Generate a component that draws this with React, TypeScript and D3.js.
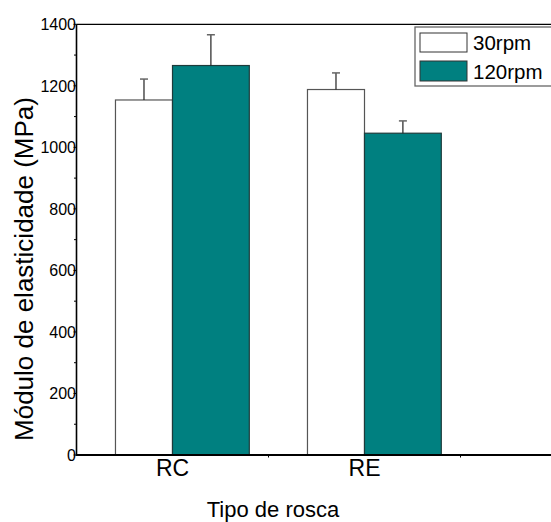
import React from "react";
import * as d3 from "d3";

const categories = ["RC", "RE"];
const seriesNames = ["30rpm", "120rpm"];
const values30 = [1154, 1188];
const values120 = [1266, 1046];
const err30 = [68, 54];
const err120 = [100, 40];
const yTicks = [0, 200, 400, 600, 800, 1000, 1200, 1400];
const yMinorTicks = [100, 300, 500, 700, 900, 1100, 1300];
const xMinorTicks = [1.5, 2.5];

const W = 551;
const H = 522;
const TEAL = "#008080";

export default function App() {
  const x = d3.scaleLinear().domain([0.5, 3.5]).range([76.5, 652.5]);
  const y = d3.scaleLinear().domain([0, 1400]).range([455, 24.3]);
  const step = x(2) - x(1);
  const wWhite = step * 0.297;
  const wTeal = step * 0.4;
  const font = "'Liberation Sans', Arial, sans-serif";

  return (
    <svg width={W} height={H} style={{ position: "absolute", left: 0, top: 0, background: "#fff" }} fontFamily={font}>
      <rect x={0} y={0} width={W} height={H} fill="#fff" />
      {/* bars */}
      {categories.map((c, i) => {
        const cx = x(i + 1);
        return (
          <g key={c}>
            <rect x={cx - wWhite} y={y(values30[i])} width={wWhite} height={y(0) - y(values30[i])} fill="#fff" stroke="#555" strokeWidth={1.2} />
            <line x1={cx - wWhite / 2} x2={cx - wWhite / 2} y1={y(values30[i])} y2={y(values30[i] + err30[i])} stroke="#222" strokeWidth={1.2} />
            <line x1={cx - wWhite / 2 - 4} x2={cx - wWhite / 2 + 4} y1={y(values30[i] + err30[i])} y2={y(values30[i] + err30[i])} stroke="#666" strokeWidth={1.5} />
            <rect x={cx} y={y(values120[i])} width={wTeal} height={y(0) - y(values120[i])} fill={TEAL} stroke="#1e3b3b" strokeWidth={1.2} />
            <line x1={cx + wTeal / 2} x2={cx + wTeal / 2} y1={y(values120[i])} y2={y(values120[i] + err120[i])} stroke="#222" strokeWidth={1.2} />
            <line x1={cx + wTeal / 2 - 4} x2={cx + wTeal / 2 + 4} y1={y(values120[i] + err120[i])} y2={y(values120[i] + err120[i])} stroke="#666" strokeWidth={1.5} />
          </g>
        );
      })}
      {/* frame */}
      <line x1={x(0.5)} x2={W} y1={y(1400)} y2={y(1400)} stroke="#000" strokeWidth={1.3} />
      <line x1={x(0.5)} x2={W} y1={y(0)} y2={y(0)} stroke="#000" strokeWidth={2} />
      <line x1={x(0.5)} x2={x(0.5)} y1={y(0) + 1} y2={y(1400)} stroke="#000" strokeWidth={1.6} />
      {/* y ticks */}
      {yTicks.map((t) => (
        <g key={t}>
          <line x1={x(0.5) - 3} x2={x(0.5)} y1={y(t)} y2={y(t)} stroke="#000" strokeWidth={1} />
          <text x={x(0.5) - 0.5} y={y(t)} dy="0.36em" textAnchor="end" fontSize={16} fill="#000">{t}</text>
        </g>
      ))}
      {yMinorTicks.map((t) => (
        <line key={t} x1={x(0.5) - 2.5} x2={x(0.5)} y1={y(t)} y2={y(t)} stroke="#000" strokeWidth={1} />
      ))}
      {xMinorTicks.map((t) => (
        <line key={t} x1={x(t)} x2={x(t)} y1={y(0)} y2={y(0) + 2.5} stroke="#000" strokeWidth={1} />
      ))}
      {/* x labels */}
      {categories.map((c, i) => (
        <text key={c} x={x(i + 1)} y={476} textAnchor="middle" fontSize={23} fill="#000">{c}</text>
      ))}
      <text x={273} y={517} textAnchor="middle" fontSize={22} fill="#000">Tipo de rosca</text>
      <text transform={`translate(33,269) rotate(-90)`} textAnchor="middle" fontSize={26} fill="#000">Módulo de elasticidade (MPa)</text>
      {/* legend */}
      <rect x={415} y={27} width={150} height={59} fill="#fff" stroke="#666" strokeWidth={1.3} />
      <rect x={420} y={33} width={47} height={19} fill="#fff" stroke="#333" strokeWidth={1} />
      <rect x={420} y={61} width={47} height={20} fill={TEAL} stroke="#333" strokeWidth={1} />
      <text x={473} y={50} fontSize={20.5} fill="#000">{seriesNames[0]}</text>
      <text x={473} y={79} fontSize={20.5} fill="#000">{seriesNames[1]}</text>
    </svg>
  );
}
